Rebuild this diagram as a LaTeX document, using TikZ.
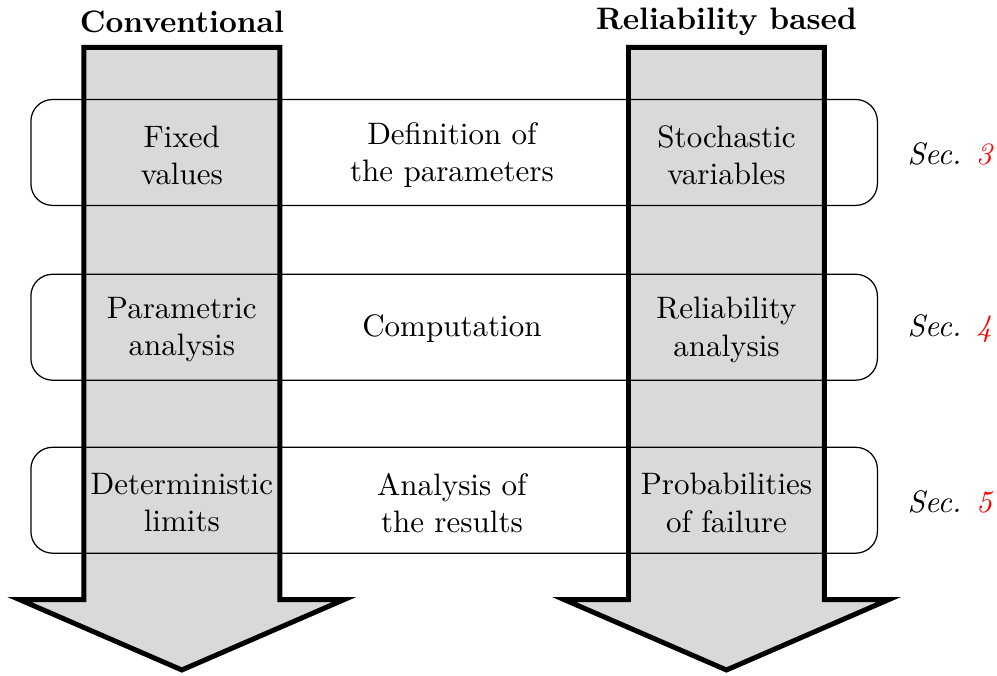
\documentclass[tikz,border=0pt]{standalone}
\usepackage{xcolor}
\begin{document}
\begin{tikzpicture}

\useasboundingbox (0,0) rectangle (11.295,7.647);

\foreach \c in {2.06,8.23} {
  \filldraw[fill=gray!30, line width=1.6pt] ({\c-1.11},7.11) -- ({\c+1.11},7.11) -- ({\c+1.11},0.855)
    -- ({\c+1.84},0.855) -- ({\c},0.057) -- ({\c-1.84},0.855) -- ({\c-1.11},0.855) -- cycle;
}

\foreach \y in {5.92,3.94,1.98} {
  \draw[rounded corners=7pt] (0.35,{\y-0.6}) rectangle (9.94,{\y+0.6});
}

\node (conv) at (2.06,7.40) {\bfseries Conventional};
\node (relb) at (8.23,7.40) {\bfseries Reliability based};

\node[align=center] (fixed)   at (2.06,5.89) {Fixed\\values};
\node[align=center] (defin)   at (5.12,5.89) {Definition of\\the parameters};
\node[align=center] (stoch)   at (8.23,5.89) {Stochastic\\variables};

\node[align=center] (param)   at (2.06,3.91) {Parametric\\analysis};
\node[align=center] (comput)  at (5.12,3.93) {Computation};
\node[align=center] (relan)   at (8.23,3.91) {Reliability\\analysis};

\node[align=center] (determ)  at (2.06,1.95) {Deterministic\\limits};
\node[align=center] (results) at (5.12,1.95) {Analysis of\\the results};
\node[align=center] (probf)   at (8.23,1.95) {Probabilities\\of failure};

\node (sec3) at (10.76,5.90) {\textit{Sec. \textcolor{red}{3}}};
\node (sec4) at (10.76,3.92) {\textit{Sec. \textcolor{red}{4}}};
\node (sec5) at (10.76,1.96) {\textit{Sec. \textcolor{red}{5}}};

\end{tikzpicture}
\end{document}
